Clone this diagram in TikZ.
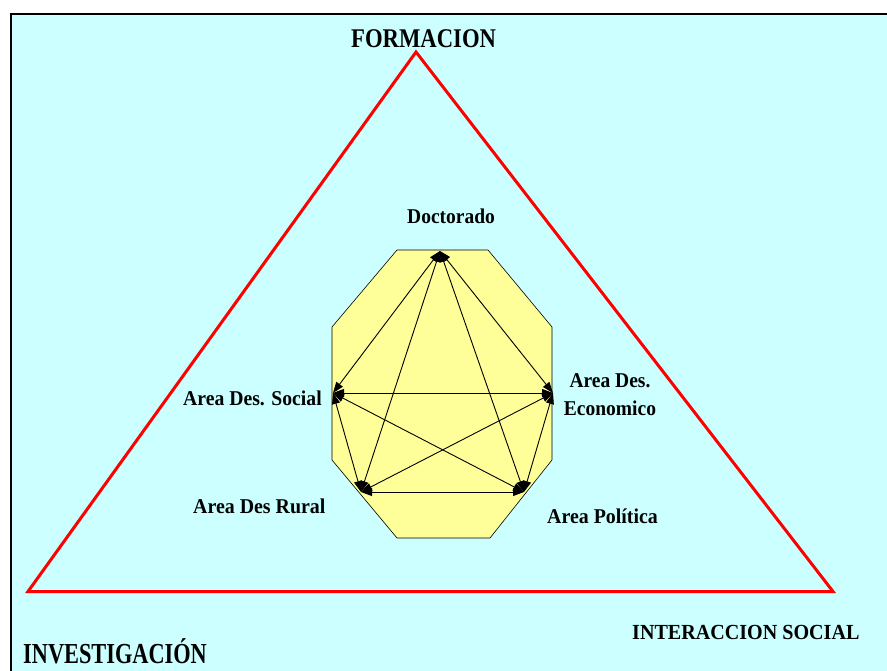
\documentclass[tikz,border=0pt]{standalone}
\usepackage{fontspec}
\setmainfont{Liberation Serif}
\usetikzlibrary{arrows.meta}
\definecolor{bgcyan}{HTML}{CCFFFF}
\definecolor{octfill}{HTML}{FFFF99}
\definecolor{trired}{HTML}{FF0000}
\begin{document}
\begin{tikzpicture}[x=1pt,y=-1pt,
  lbl/.style={inner sep=0pt,anchor=base west,font=\fontsize{19.5}{28}\selectfont\bfseries},
  ttl/.style={inner sep=0pt,anchor=base west},
  link/.style={line width=0.9pt,{Triangle[length=11pt,width=8pt]}-{Triangle[length=11pt,width=8pt]}}]
\useasboundingbox (0,0) rectangle (887,671);
\fill[white] (0,0) rectangle (887,671);
% frame
\draw[line width=2pt,fill=bgcyan] (11,14) rectangle (900,690);
% triangle
\draw[trired,line width=3pt,line join=miter] (416,52) -- (28,591.5) -- (833,591.5) -- cycle;
% octagon
\draw[fill=octfill,line width=0.6pt] (397,250) -- (488,250) -- (552,327) -- (552,460) -- (490,538) -- (397,538) -- (332,460) -- (332,327) -- cycle;
% junction points
\coordinate (doc) at (440,251);
\coordinate (soc) at (333,393);
\coordinate (eco) at (553,393);
\coordinate (rur) at (361,492);
\coordinate (pol) at (524,492);
% connectors
\draw[link] (doc) -- (soc);
\draw[link] (doc) -- (eco);
\draw[link] (doc) -- (rur);
\draw[link] (doc) -- (pol);
\draw[link] (soc) -- (eco);
\draw[link] (soc) -- (rur);
\draw[link] (soc) -- (pol);
\draw[link] (eco) -- (rur);
\draw[link] (eco) -- (pol);
\draw[link] (pol) -- (rur);
% labels
\node[lbl] (ldoc) at (407,224) {\scalebox{1}[1.08]{Doctorado}};
\node[lbl] (lsoc) at (183,405) {\scalebox{1.01}[1.08]{Area Des. Social}};
\node[lbl,anchor=base] (leco1) at (610,387) {\scalebox{1}[1.08]{Area Des.}};
\node[lbl,anchor=base] (leco2) at (610,415) {\scalebox{1}[1.08]{Economico}};
\node[lbl] (lrur) at (193,513) {\scalebox{1.02}[1.08]{Area Des Rural}};
\node[lbl] (lpol) at (547,523) {\scalebox{1.02}[1.08]{Area Política}};
% titles
\node[ttl] (tfor) at (351,48) {\scalebox{0.84}[1]{\fontsize{27}{30}\selectfont\bfseries FORMACION}};
\node[ttl] (tinv) at (23,663) {\scalebox{0.77}[1]{\fontsize{29}{32}\selectfont\bfseries INVESTIGACIÓN}};
\node[ttl] (tint) at (632,639) {\scalebox{0.935}[1]{\fontsize{21.5}{24}\selectfont\bfseries INTERACCION SOCIAL}};
\end{tikzpicture}
\end{document}
